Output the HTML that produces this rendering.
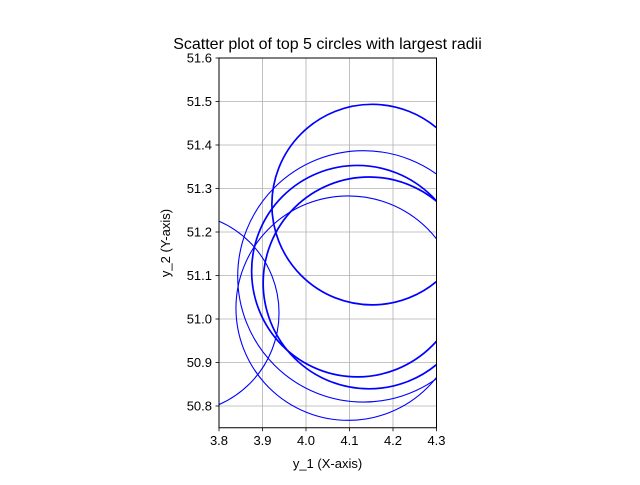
<!DOCTYPE html>
<html><head><meta charset="utf-8"><style>
body{margin:0;background:#fff;font-family:"Liberation Sans",sans-serif}
</style></head><body>
<svg width="640" height="480" xmlns="http://www.w3.org/2000/svg">
<defs><clipPath id="clip"><rect x="219" y="58" width="217.5" height="369.75"/></clipPath></defs>
<rect width="640" height="480" fill="#fff"/>
<text x="327.5" y="49" text-anchor="middle" font-size="16" fill="#000">Scatter plot of top 5 circles with largest radii</text>
<g id="grid"></g>
<g id="circles" clip-path="url(#clip)"></g>
<rect x="219" y="58" width="217.5" height="369.75" fill="none" stroke="#000" stroke-width="1"/>
<g id="ticks"></g>
<text x="327.5" y="468" text-anchor="middle" font-size="13">y_1 (X-axis)</text>
<text transform="translate(170,243) rotate(-90)" text-anchor="middle" font-size="13">y_2 (Y-axis)</text>
</svg>
<script>
const xTicks=[3.8,3.9,4.0,4.1,4.2,4.3];
const yTicks=[50.8,50.9,51.0,51.1,51.2,51.3,51.4,51.5,51.6];
const cxs=[4.152,4.132,4.118,4.145,4.097,3.708];
const cys=[51.263,51.098,51.11,51.083,51.025,51.014];
const rs=[0.2305,0.289,0.243,0.2435,0.258,0.23];
const widths=[1.7,1.1,1.7,1.7,1.1,1.1];
const X0=219,X1=436.5,Y0=427.75,Y1=58;
const xmin=3.8,xmax=4.3,ymin=50.75,ymax=51.6;
const sx=v=>X0+(v-xmin)/(xmax-xmin)*(X1-X0);
const sy=v=>Y0-(v-ymin)/(ymax-ymin)*(Y0-Y1);
const NS="http://www.w3.org/2000/svg";
const g=document.getElementById('grid'),t=document.getElementById('ticks'),c=document.getElementById('circles');
function mk(tag,attrs,parent){const e=document.createElementNS(NS,tag);for(const k in attrs)e.setAttribute(k,attrs[k]);parent.appendChild(e);return e;}
xTicks.forEach(v=>{const x=sx(v);
const l=mk('line',{x1:x,x2:x,y1:Y1,y2:Y0,stroke:'#b0b0b0','stroke-width':0.8},g);


const tk=mk('line',{x1:x,x2:x,y1:Y0,y2:Y0+3.5,stroke:'#000','stroke-width':0.8},t);


const tx=mk('text',{x:x,y:Y0+17,'text-anchor':'middle','font-size':13},t);tx.textContent=v.toFixed(1);

});
yTicks.forEach(v=>{const y=sy(v);
const l=mk('line',{x1:X0,x2:X1,y1:y,y2:y,stroke:'#b0b0b0','stroke-width':0.8},g);


const tk=mk('line',{x1:X0-3.5,x2:X0,y1:y,y2:y,stroke:'#000','stroke-width':0.8},t);


const tx=mk('text',{x:X0-7,y:y+4.5,'text-anchor':'end','font-size':13},t);tx.textContent=v.toFixed(1);

});
const k=(X1-X0)/(xmax-xmin);
cxs.forEach((cx,i)=>{const e=mk('circle',{cx:sx(cx),cy:sy(cys[i]),r:rs[i]*k,fill:'none',stroke:'#0000ff','stroke-width':widths[i]},c);

});
</script>
</body></html>
